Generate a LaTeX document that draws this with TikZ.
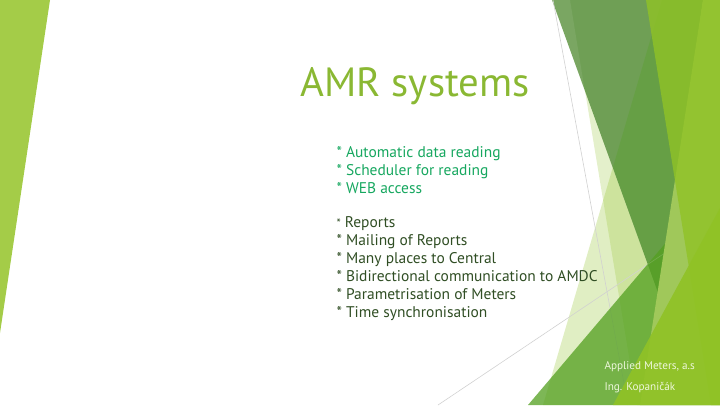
\documentclass[tikz,border=0pt]{standalone}
\usepackage{fontspec}
\setmainfont{PT Sans}
\definecolor{leafgreen}{RGB}{144,194,38}
\definecolor{deepgreen}{RGB}{84,160,33}
\definecolor{titlegreen}{RGB}{138,184,51}
\definecolor{accessgreen}{RGB}{22,167,95}
\definecolor{bodygreen}{RGB}{48,78,36}
\definecolor{footgreen}{RGB}{238,247,220}
\tikzset{every picture/.style={line width=0.75pt}}
\tikzset{
  titletext/.style={anchor=base west,inner sep=0pt,text=titlegreen,font=\fontsize{30.6}{31}\selectfont},
  greenline/.style={anchor=base west,inner sep=0pt,text=accessgreen,font=\fontsize{11.6}{12}\selectfont},
  bodyline/.style={anchor=base west,inner sep=0pt,text=bodygreen,font=\fontsize{11.6}{12}\selectfont},
  footline/.style={anchor=base west,inner sep=0pt,text=footgreen,font=\fontsize{8.4}{9}\selectfont},
  hairline/.style={draw=black!18,line width=0.45pt}
}

\begin{document}
\begin{tikzpicture}[x=0.75pt,y=0.75pt,yscale=-1,xscale=1]
\useasboundingbox (0,0) rectangle (720,405);

%Left wedge
\fill [color={rgb, 255:red, 164; green, 204; blue, 72 }] (0,0) -- (50,0) -- (0,333) -- cycle;

%Pale facets
\fill [leafgreen, opacity=0.24] (570,0) -- (720,0) -- (720,405) -- (637,405) -- cycle;
\fill [leafgreen, opacity=0.28] (662,0) -- (720,0) -- (720,405) -- (543,405) -- cycle;
%Dark facet
\fill [color={rgb, 255:red, 111; green, 159; blue, 85 }] (552,0) -- (703,0) -- (660,298) -- cycle;
\fill [white, opacity=0.08] (552,0) -- (570,0) -- (585,92) -- cycle;
\fill [deepgreen, opacity=0.3] (662,0) -- (703,0) -- (660,298) -- (613,167) -- cycle;
%Lines
\draw [hairline] (553,0) -- (628,405);
\draw [hairline] (438,405) -- (720,216);
%Large triangle
\fill [deepgreen, opacity=0.76] (528,405) -- (720,179) -- (720,405) -- cycle;
%Light facets
\fill [color={rgb, 255:red, 160; green, 200; blue, 90 }] (703,0) -- (720,0) -- (720,405) -- (640,405) -- cycle;
\fill [leafgreen, opacity=0.8] (646,0) -- (720,0) -- (720,405) -- (711,405) -- cycle;
\fill [leafgreen, opacity=0.92] (613,405) -- (720,208) -- (720,405) -- cycle;

% Text Node
\draw (300,96) node [titletext] (title) {AMR systems};
% Text Node
\draw (336,157) node [greenline] (reading) {* Automatic data reading};
% Text Node
\draw (336,175) node [greenline] (scheduler) {* Scheduler for reading};
% Text Node
\draw (336,193) node [greenline] (web) {* WEB access};
% Text Node
\draw (336,227) node [bodyline] (reports) {{\fontsize{9}{9}\selectfont*} Reports};
% Text Node
\draw (336,245) node [bodyline] (mailing) {* Mailing of Reports};
% Text Node
\draw (336,263) node [bodyline] (places) {* Many places to Central};
% Text Node
\draw (336,281) node [bodyline] (amdc) {* Bidirectional communication to AMDC};
% Text Node
\draw (336,299) node [bodyline] (meters) {* Parametrisation of Meters};
% Text Node
\draw (336,317) node [bodyline] (timesync) {* Time synchronisation};
% Text Node
\draw (604,369) node [footline] (company) {Applied Meters, a.s};
% Text Node
\draw (604,390) node [footline] (engineer) {Ing. Kopaničák};

\end{tikzpicture}
\end{document}
